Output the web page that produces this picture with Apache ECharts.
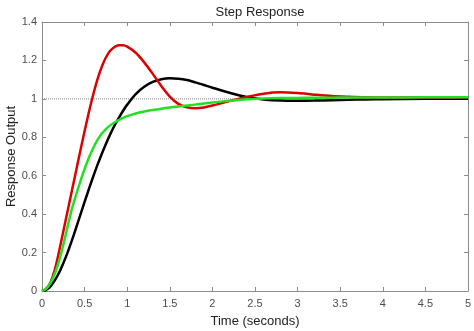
<!DOCTYPE html>
<html>
<head>
<meta charset="utf-8">
<script src="https://cdn.jsdelivr.net/npm/echarts@6/dist/echarts.min.js"></script>
<style>html,body{margin:0;padding:0;background:#fff}#c{width:474px;height:331px}</style>
</head>
<body>
<div id="c"></div>
<script>
var titleText = 'Step Response';
var xLabel = 'Time (seconds)';
var yLabel = 'Response Output';
var time = [0,0.05,0.1,0.15,0.2,0.25,0.3,0.35,0.4,0.45,0.5,0.55,0.6,0.65,0.7,0.75,0.8,0.85,0.9,0.95,1.0,1.1,1.2,1.3,1.4,1.5,1.6,1.7,1.8,1.9,2.0,2.2,2.4,2.6,2.8,3.0,3.2,3.4,3.6,3.8,4.0,4.5,5.0];
var redValues = [0,0.012,0.045,0.11,0.205,0.31,0.415,0.52,0.625,0.73,0.832,0.93,1.02,1.1,1.165,1.215,1.25,1.27,1.279,1.279,1.272,1.24,1.19,1.13,1.067,1.012,0.974,0.956,0.951,0.955,0.965,0.988,1.01,1.027,1.034,1.03,1.022,1.015,1.011,1.008,1.007,1.007,1.008];
var blackValues = [0,0.006,0.024,0.055,0.095,0.145,0.2,0.262,0.328,0.396,0.464,0.53,0.594,0.655,0.712,0.765,0.815,0.86,0.9,0.937,0.97,1.025,1.063,1.088,1.102,1.107,1.105,1.098,1.086,1.072,1.058,1.032,1.01,0.997,0.991,0.99,0.991,0.993,0.995,0.997,0.998,1.0,1.0];
var greenValues = [0,0.012,0.042,0.09,0.155,0.24,0.335,0.425,0.5,0.57,0.635,0.693,0.743,0.785,0.818,0.843,0.862,0.877,0.89,0.901,0.91,0.924,0.934,0.942,0.949,0.955,0.96,0.965,0.97,0.976,0.981,0.99,0.998,1.002,1.004,1.005,1.006,1.006,1.007,1.007,1.007,1.008,1.008];
var steadyState = [[0,1],[5,1]];
var xTicks = ['0','0.5','1','1.5','2','2.5','3','3.5','4','4.5','5'];
var yTicks = ['0','0.2','0.4','0.6','0.8','1','1.2','1.4'];

function pairs(vals){ return time.map(function(t,i){ return [t, vals[i]]; }); }
var font = 'Liberation Sans, Arial, Helvetica, sans-serif';
var axisGray = '#8c8c8c';
var chart = echarts.init(document.getElementById('c'), null, {renderer:'canvas'});
function xAx(show, pos){
  return {type:'value', min:0, max:5, interval:0.5, position:pos,
    name: show ? xLabel : '', nameLocation:'middle', nameGap:24, nameMoveOverlap:false,
    nameTextStyle:{fontFamily:font, fontSize:13, color:'#222'},
    axisLine:{show:true, onZero:false, lineStyle:{color:axisGray, width:1}},
    axisTick:{show:true, inside:true, length:4, lineStyle:{color:axisGray}},
    axisLabel:{show:show, margin:7, fontFamily:font, fontSize:11, color:'#4d4d4d',
      formatter:function(v){ var i=Math.round(v/0.5); return xTicks[i]; }},
    splitLine:{show:false}};
}
function yAx(show, pos){
  return {type:'value', min:0, max:1.4, interval:0.2, position:pos,
    name: show ? yLabel : '', nameLocation:'middle', nameGap:24, nameMoveOverlap:false,
    nameTextStyle:{fontFamily:font, fontSize:13, color:'#222'},
    axisLine:{show:true, onZero:false, lineStyle:{color:axisGray, width:1}},
    axisTick:{show:true, inside:true, length:4, lineStyle:{color:axisGray}},
    axisLabel:{show:show, margin:5, fontFamily:font, fontSize:11, color:'#4d4d4d',
      formatter:function(v){ var i=Math.round(v/0.2); return yTicks[i]; }},
    splitLine:{show:false}};
}
chart.setOption({
  animation:false,
  backgroundColor:'#fff',
  title:{text:titleText, left:255, textAlign:'center', top:1,
    textStyle:{fontFamily:font, fontSize:13, fontWeight:'normal', color:'#222'}},
  grid:{left:42, right:6, top:22, bottom:40, containLabel:false, outerBoundsMode:'none'},
  xAxis:[xAx(true,'bottom'), xAx(false,'top')],
  yAxis:[yAx(true,'left'), yAx(false,'right')],
  series:[
    {type:'line', data:steadyState, showSymbol:false, silent:true,
      lineStyle:{color:'#8a8a8a', width:1, type:[1,1]}},
    {type:'line', name:'black', data:pairs(blackValues), showSymbol:false, smooth:0.3,
      lineStyle:{color:'#000000', width:2.5}},
    {type:'line', name:'red', data:pairs(redValues), showSymbol:false, smooth:0.3,
      lineStyle:{color:'#dd0000', width:2.5}},
    {type:'line', name:'green', data:pairs(greenValues), showSymbol:false, smooth:0.3,
      lineStyle:{color:'#22e022', width:2.5}}
  ]
});
</script>
</body>
</html>
